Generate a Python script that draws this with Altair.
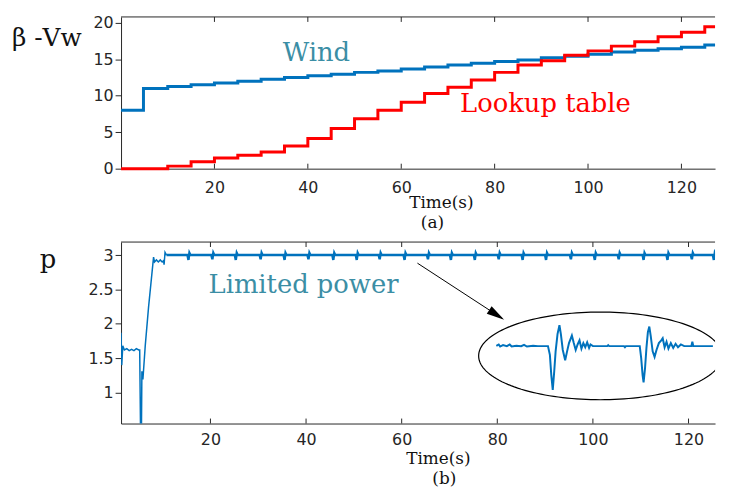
import altair as alt
import pandas as pd
import numpy as np

# ---------------- data ----------------
# (a) step profiles
wind_t = [0, 4.8, 10, 15, 20, 25, 30, 35, 40, 45, 50, 55, 60, 65, 70, 75, 80, 85,
          90, 95, 100, 105, 110, 115, 120, 125, 127.2]
wind_v = [8.0, 11.0, 11.25, 11.5, 11.75, 12.0, 12.25, 12.5, 12.75, 12.95, 13.2, 13.4,
          13.65, 13.95, 14.2, 14.45, 14.7, 14.9, 15.2, 15.4, 15.7, 16.0, 16.25, 16.45,
          16.65, 16.95, 16.95]
lut_t = [0, 10, 15, 20, 25, 30, 35, 40, 45, 50, 55, 60, 65, 70, 75, 80, 85, 90, 95,
         100, 105, 110, 115, 120, 125, 127.2]
lut_v = [0.0, 0.35, 0.95, 1.45, 1.85, 2.3, 3.1, 4.15, 5.5, 6.85, 8.0, 9.1, 10.3, 11.15,
         12.15, 13.2, 14.2, 14.8, 15.55, 16.15, 16.8, 17.4, 18.1, 18.7, 19.45, 19.45]

# (b) limited power: start-up transient
trans_t = [1.3, 1.45, 1.66, 2.0, 2.5, 3.0, 3.5, 4.0, 4.5, 5.0, 5.2, 5.4, 5.55, 5.66,
           5.87, 6.37, 7.05, 8.1, 8.3, 8.7, 9.1, 9.5, 9.9, 10.2, 10.3, 10.5, 10.8]
trans_p = [1.87, 1.40, 1.68, 1.62, 1.64, 1.61, 1.63, 1.61, 1.64, 1.62, 1.62, 0.30, 0.30,
           1.31, 1.19, 1.69, 2.24, 2.97, 2.90, 2.93, 2.90, 2.93, 2.90, 2.92, 2.86, 3.04, 3.00]
# steady state at 3.0 with a small dip at every wind step
steady_level = 3.0
dip_times = [15.4, 20.4, 25.3, 30.5, 35.5, 40.5, 45.7, 50.6, 55.4, 60.6, 65.5, 70.3,
             75.3, 80.3, 85.3, 90.2, 95.4, 100.4, 105.4, 110.6, 115.6, 120.7, 125.3]
dip_low = [2.93, 2.94, 2.93, 2.94, 2.93, 2.94, 2.93, 2.93, 2.94, 2.93, 2.94, 2.93,
           2.93, 2.94, 2.93, 2.93, 2.94, 2.93, 2.94, 2.93, 2.93, 2.94, 2.93]

# zoomed inset (drawn inside the ellipse)
inset_t = [79.8, 80.3, 80.6, 81.2, 82.0, 82.6, 83.0, 84.0, 85.0, 85.6, 86.2, 87.5, 88.5,
           90.6, 91.0, 91.3, 91.6, 91.9, 92.2, 92.6, 93.0, 93.3, 93.7, 94.2, 94.6, 95.0,
           95.6, 96.0, 96.4, 96.8, 97.2, 97.6, 98.0, 98.4, 98.8, 99.2, 99.5, 100.0, 103.0,
           103.2, 103.4, 106.5, 106.7, 106.9, 109.8, 110.1, 110.4, 110.6, 110.9, 111.2,
           111.5, 111.8, 112.1, 112.5, 112.9, 113.3, 113.8, 114.3, 114.6, 115.0, 115.4,
           115.8, 116.3, 116.8, 117.3, 117.8, 118.4, 119.1, 120.6, 120.8, 121.0, 125.1]
inset_p = [1.68, 1.70, 1.67, 1.69, 1.675, 1.70, 1.67, 1.68, 1.675, 1.695, 1.67, 1.68, 1.676,
           1.676, 1.55, 1.25, 1.04, 1.30, 1.60, 1.85, 1.98, 1.85, 1.62, 1.47, 1.60, 1.72,
           1.83, 1.72, 1.62, 1.70, 1.76, 1.64, 1.72, 1.66, 1.73, 1.65, 1.70, 1.676, 1.676,
           1.69, 1.676, 1.676, 1.66, 1.676, 1.676, 1.50, 1.25, 1.15, 1.35, 1.65,
           1.88, 1.96, 1.82, 1.60, 1.52, 1.62, 1.72, 1.76, 1.79, 1.66, 1.74,
           1.64, 1.72, 1.65, 1.71, 1.66, 1.70, 1.676, 1.676, 1.74, 1.676, 1.676]

x_ticks = [20, 40, 60, 80, 100, 120]
y_ticks_a = [0, 5, 10, 15, 20]
y_ticks_b = [1, 1.5, 2, 2.5, 3]

# ---------------- styling ----------------
W, H1, H2 = 599, 153, 183
blue, red, teal, ink = "#0072BD", "#FF0000", "#3B8EA5", "#262626"
serif, sans = "DejaVu Serif", "DejaVu Sans"

wind_df = pd.DataFrame({"t": wind_t, "v": wind_v})
lut_df = pd.DataFrame({"t": lut_t, "v": lut_v})
ticks_df = pd.DataFrame({"t": x_ticks})
one = pd.DataFrame({"k": [0]})


def label(text, x, y, size, color, font=serif, align="center"):
    return alt.Chart(pd.DataFrame({"s": [text]})).mark_text(
        font=font, fontSize=size, color=color, align=align, baseline="alphabetic"
    ).encode(x=alt.value(x), y=alt.value(y), text="s:N")


def frame(x_enc, H):
    top = alt.Chart(one).mark_rule(color=ink, strokeWidth=1).encode(
        x=alt.value(0), x2=alt.value(W), y=alt.value(0))
    t_top = alt.Chart(ticks_df).mark_rule(color=ink, strokeWidth=1).encode(
        x=x_enc, y=alt.value(0), y2=alt.value(5))
    t_bot = alt.Chart(ticks_df).mark_rule(color=ink, strokeWidth=1).encode(
        x=x_enc, y=alt.value(H - 5), y2=alt.value(H))
    return [top, t_top, t_bot]


# ---------------- panel (a) ----------------
xa = alt.X("t:Q", scale=alt.Scale(domain=[0, 127.2], nice=False, zero=False),
           axis=alt.Axis(values=x_ticks, ticks=False, labelPadding=11, title=None))
ya = alt.Y("v:Q", scale=alt.Scale(domain=[0, 20.8], nice=False),
           axis=alt.Axis(values=y_ticks_a, tickSize=6, labelPadding=2, title=None))

wind_line = alt.Chart(wind_df).mark_line(
    interpolate="step-after", strokeWidth=3, color=blue).encode(x=xa, y=ya)
lut_line = alt.Chart(lut_df).mark_line(
    interpolate="step-after", strokeWidth=3, color=red).encode(x=xa, y=ya)

panel_a = alt.layer(
    wind_line, lut_line, *frame(xa, H1),
    label("Wind", 197, 44, 26, teal),
    label("Lookup table", 428, 96, 26, red),
    label("β -Vw", -110, 29, 25, "#111111", align="left"),
    label("Time(s)", 323, 193, 17, "#111111"),
    label("(a)", 314, 213, 17, "#111111"),
).properties(width=W, height=H1)

# ---------------- panel (b) ----------------
steady_t, steady_p = [10.8], [steady_level]
for dt, lo in zip(dip_times, dip_low):
    steady_t += [dt - 0.2, dt, dt + 0.2, dt + 0.4]
    steady_p += [steady_level, lo, 3.03, steady_level]
steady_t.append(127.0)
steady_p.append(steady_level)

trans_df = pd.DataFrame({"t": trans_t, "v": trans_p})
steady_df = pd.DataFrame({"t": steady_t, "v": steady_p})
inset_df = pd.DataFrame({"t": inset_t, "v": inset_p})

ang = np.linspace(0, 2 * np.pi, 161)
ell_df = pd.DataFrame({"t": 101.55 + 25.45 * np.cos(ang),
                       "v": 1.534 + 0.638 * np.sin(ang),
                       "i": np.arange(len(ang))})
arrow_df = pd.DataFrame({"t": [63.3, 81.0], "v": [2.883, 2.08]})
head_df = pd.DataFrame({"t": [79.7], "v": [2.14]})

xb = alt.X("t:Q", scale=alt.Scale(domain=[1.3, 125.55], nice=False, zero=False),
           axis=alt.Axis(values=x_ticks, ticks=False, labelPadding=8, title=None))
yb = alt.Y("v:Q", scale=alt.Scale(domain=[0.55, 3.19], nice=False, zero=False),
           axis=alt.Axis(values=y_ticks_b, format="~g", tickSize=6, labelPadding=2, title=None))

trans_line = alt.Chart(trans_df).mark_line(strokeWidth=1.5, color=blue, clip=True).encode(x=xb, y=yb)
steady_line = alt.Chart(steady_df).mark_line(strokeWidth=2.5, color=blue, clip=True).encode(x=xb, y=yb)
inset_line = alt.Chart(inset_df).mark_line(strokeWidth=2, color=blue, clip=True).encode(x=xb, y=yb)
ellipse = alt.Chart(ell_df).mark_line(strokeWidth=1.2, color="black", clip=True).encode(
    x=xb, y=yb, order="i:Q")
arrow = alt.Chart(arrow_df).mark_line(strokeWidth=1, color="black").encode(x=xb, y=yb)
head = alt.Chart(head_df).mark_point(
    shape="M0,-1L0.45,0.8L-0.45,0.8Z", filled=True, size=400, angle=123,
    color="black", opacity=1).encode(x=xb, y=yb)

panel_b = alt.layer(
    trans_line, steady_line, inset_line, ellipse, arrow, head, *frame(xb, H2),
    label("Limited power", 184, 51, 26, teal),
    label("p", -82, 26, 26, "#111111", align="left"),
    label("Time(s)", 320, 224, 17, "#111111"),
    label("(b)", 326, 244, 17, "#111111"),
).properties(width=W, height=H2)

chart = alt.vconcat(panel_a, panel_b, spacing=74, bounds="flush").properties(
    padding={"left": 4, "top": 4, "right": 0, "bottom": 0}
).configure_view(stroke=None).configure_axis(
    grid=False, labelFont=sans, labelFontSize=16, labelColor=ink,
    domainColor=ink, tickColor=ink, domainWidth=1,
)

chart.save("out.html", embed_options={"renderer": "svg", "actions": False})
